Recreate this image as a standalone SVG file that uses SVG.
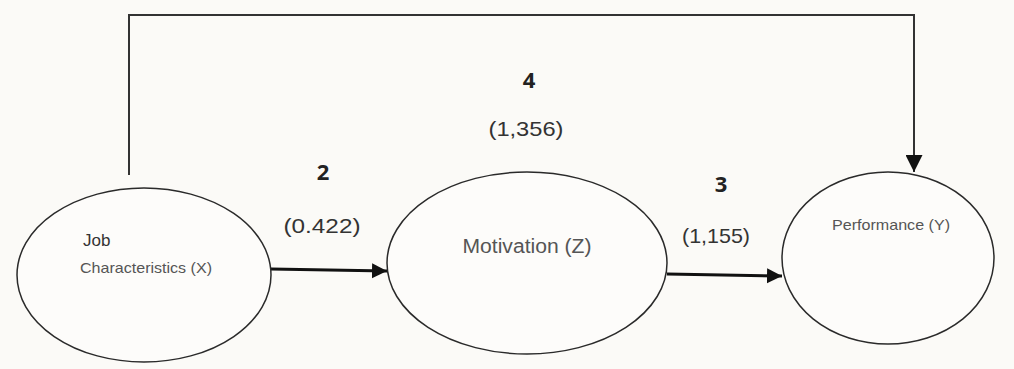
<svg xmlns="http://www.w3.org/2000/svg" width="1014" height="369" viewBox="0 0 1014 369">
  <defs>
    <marker id="head" viewBox="0 0 10 10" refX="10" refY="5" markerWidth="5" markerHeight="6.3" markerUnits="strokeWidth" orient="auto">
      <path d="M0,0 L10,5 L0,10 Z" fill="#111"/>
    </marker>
    <marker id="headThin" viewBox="0 0 10 10" refX="10" refY="5" markerWidth="9.5" markerHeight="8.5" markerUnits="strokeWidth" orient="auto">
      <path d="M0,0 L10,5 L0,10 Z" fill="#111"/>
    </marker>
  </defs>
  <style>
    .node { fill: #fdfcfa; stroke: #2a2a2a; stroke-width: 1.5; }
    .label { font-family: "Liberation Sans", Arial, sans-serif; fill: #555; }
    .num { font-family: "Open Sans", "Liberation Sans", sans-serif; font-weight: bold; font-size: 22px; fill: #222; text-anchor: middle; }
    .coef { font-family: "Liberation Sans", Arial, sans-serif; font-size: 21px; fill: #333; text-anchor: middle; }
    .edge { fill: none; stroke: #111; stroke-width: 3; }
    .edgeThin { fill: none; stroke: #333; stroke-width: 2; }
  </style>
  <rect width="1014" height="369" fill="#fbfaf7"/>

  <!-- connectors -->
  <g id="connectors">
    <path class="edgeThin" d="M129,175 V15 H914 V172" marker-end="url(#headThin)"/>
    <path class="edge" d="M271,269 L387,271" marker-end="url(#head)"/>
    <path class="edge" d="M667,274 L782,276" marker-end="url(#head)"/>
  </g>

  <!-- path labels -->
  <g id="labels">
    <text class="num" x="323" y="180">2</text>
    <text class="coef" x="322" y="233" textLength="77" lengthAdjust="spacingAndGlyphs">(0.422)</text>
    <text class="num" x="529" y="88">4</text>
    <text class="coef" x="526" y="136" textLength="75" lengthAdjust="spacingAndGlyphs">(1,356)</text>
    <text class="num" x="721" y="192">3</text>
    <text class="coef" x="716" y="243" textLength="68" lengthAdjust="spacingAndGlyphs">(1,155)</text>
  </g>

  <!-- nodes -->
  <g id="node-x">
    <ellipse class="node" cx="144" cy="275" rx="127" ry="87"/>
    <text class="label" x="83" y="246" font-size="17" style="fill:#333">Job</text>
    <text class="label" x="80" y="273" font-size="15" textLength="132" lengthAdjust="spacingAndGlyphs">Characteristics (X)</text>
  </g>
  <g id="node-z">
    <ellipse class="node" cx="527" cy="263" rx="140" ry="91"/>
    <text class="label" x="527" y="253" font-size="20" text-anchor="middle" textLength="129" lengthAdjust="spacingAndGlyphs">Motivation (Z)</text>
  </g>
  <g id="node-y">
    <ellipse class="node" cx="888" cy="258" rx="106" ry="86"/>
    <text class="label" x="832" y="230" font-size="15" textLength="118" lengthAdjust="spacingAndGlyphs">Performance (Y)</text>
  </g>
</svg>
